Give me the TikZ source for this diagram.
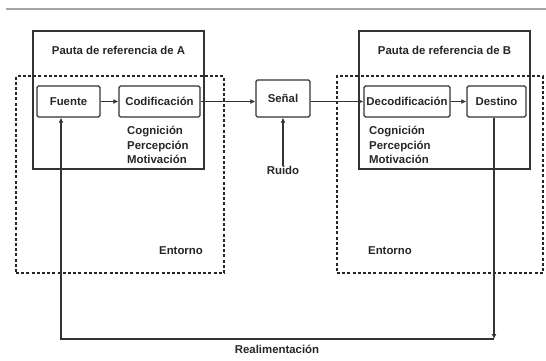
\documentclass[tikz,border=0pt]{standalone}
\usepackage{fontspec}
\setmainfont{Liberation Sans}
\usepackage{tikz}
\usetikzlibrary{arrows.meta,positioning}

\begin{document}
\begin{tikzpicture}[
  x=1bp, y=-1bp,
  font=\fontsize{11.4bp}{14.5bp}\selectfont\bfseries,
  marco/.style={draw=black!80,line width=1.3bp,minimum width=171bp,
                minimum height=138bp,inner sep=0pt},
  entorno/.style={draw=black!85,line width=1.6bp,dash pattern=on 3bp off 2.2bp,
                  minimum height=197bp,inner sep=0pt},
  box/.style={draw=black!80,line width=1.3bp,rounded corners=1.5bp,
              minimum height=31bp,inner sep=0pt,text=black!85},
  texto/.style={inner sep=0pt,text=black!85,align=left},
  arrow/.style={-{Latex[length=5bp,width=5bp]},line width=1.2bp,draw=black!80}
]
\useasboundingbox (0,0) rectangle (546,360);
\draw[black!35,line width=1.5bp] (6,9) -- (546,9);
% marcos de referencia y entornos
\node[marco] (pautaA) at (118.5,100) {};
\node[marco] (pautaB) at (444.5,100) {};
\node[entorno,minimum width=208bp] (entornoA) at (120,174.5) {};
\node[entorno,minimum width=206bp] (entornoB) at (440,174.5) {};
\node[texto,below=16bp of pautaA.north] (tituloA) {Pauta de referencia de A};
\node[texto,below=16bp of pautaB.north] (tituloB) {Pauta de referencia de B};
% cajas
\node[box,minimum width=63bp] (fuente) at (68.5,101.5) {Fuente};
\node[box,minimum width=81bp] (codif) at (159.5,101.5) {Codificación};
\node[box,minimum width=54bp,minimum height=37bp] (senal) at (283,98.5) {Señal};
\node[box,minimum width=86bp] (decodif) at (407,101.5) {Decodificación};
\node[box,minimum width=59bp] (destino) at (496.5,101.5) {Destino};
% textos
\node[texto,anchor=west] (cpmA) at (127,145) {Cognición\\Percepción\\Motivación};
\node[texto,anchor=west] (cpmB) at (369,145) {Cognición\\Percepción\\Motivación};
\node[texto] (entA) at (181,251) {Entorno};
\node[texto] (entB) at (390,251) {Entorno};
\node[texto] (ruido) at (283,170) {Ruido};
\node[texto] (realim) at (277,349) {Realimentación};
\coordinate (fbB) at (494,339);
\coordinate (fbA) at (61,339);
% flechas
\draw[arrow] (fuente) -- (codif);
\draw[arrow] (codif.east) -- (codif.east -| senal.west);
\draw[arrow] (senal.east |- decodif.west) -- (decodif.west);
\draw[arrow] (decodif) -- (destino);
\draw[arrow] (ruido) -- (senal);
\draw[arrow] (fbB |- destino.south) -- (fbB);
\draw[arrow] (fbB) -- (fbA) -- (fbA |- fuente.south);
\end{tikzpicture}
\end{document}
